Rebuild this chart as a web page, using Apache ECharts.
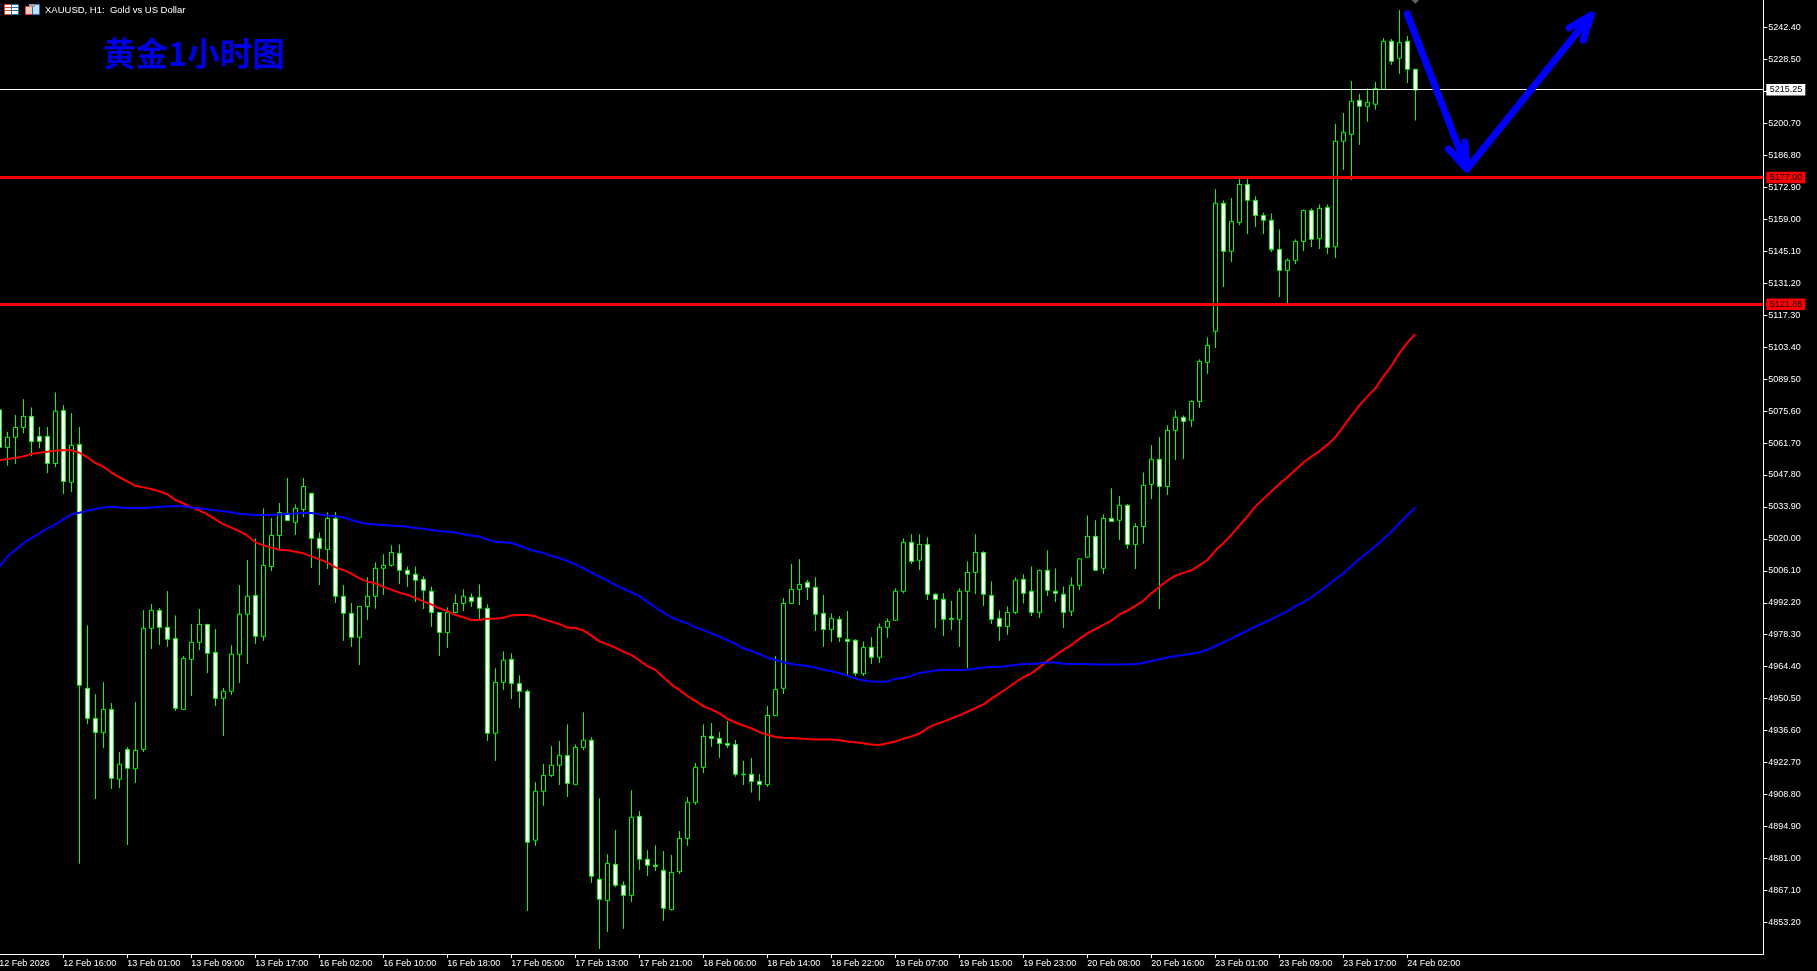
<!DOCTYPE html>
<html>
<head>
<meta charset="utf-8">
<title>XAUUSD H1</title>
<script src="https://cdn.jsdelivr.net/npm/echarts@6/dist/echarts.min.js"></script>
<style>html,body{margin:0;padding:0;background:#000;overflow:hidden}#c{width:1817px;height:971px}</style>
</head>
<body>
<div id="c"></div>
<script>
const timeLabels = ['12 Feb 2026','12 Feb 16:00','13 Feb 01:00','13 Feb 09:00','13 Feb 17:00','16 Feb 02:00','16 Feb 10:00','16 Feb 18:00','17 Feb 05:00','17 Feb 13:00','17 Feb 21:00','18 Feb 06:00','18 Feb 14:00','18 Feb 22:00','19 Feb 07:00','19 Feb 15:00','19 Feb 23:00','20 Feb 08:00','20 Feb 16:00','23 Feb 01:00','23 Feb 09:00','23 Feb 17:00','24 Feb 02:00'];
const priceTicks = [5242.4,5228.5,5214.6,5200.7,5186.8,5172.9,5159,5145.1,5131.2,5117.3,5103.4,5089.5,5075.6,5061.7,5047.8,5033.9,5020,5006.1,4992.2,4978.3,4964.4,4950.5,4936.6,4922.7,4908.8,4894.9,4881,4867.1,4853.2];
const opens = [5076.1,5059.8,5064.2,5068.5,5073.3,5064.6,5064.6,5052.8,5075.9,5044.6,
5061.1,4955.0,4941.9,4935.7,4945.8,4915.4,4928.4,4920.0,4928.4,4981.1,
4988.9,4981.5,4976.7,4945.8,4967.6,4975.0,4982.8,4970.6,4950.6,4953.7,
4969.8,4987.2,4995.4,4977.6,5008.0,5021.5,5031.1,5027.2,5032.8,5039.8,
5020.2,5015.4,5028.9,4995.0,4987.6,4977.2,4990.6,4995.0,5007.2,5008.5,
5013.7,5006.3,5004.6,5002.4,4997.2,4988.0,4979.3,4988.0,4991.9,4994.6,
4994.6,4989.8,4935.4,4957.6,4967.6,4957.1,4953.7,4888.9,4910.2,4917.1,
4921.5,4925.8,4913.2,4929.3,4932.4,4871.9,4862.7,4878.4,4869.3,4864.9,
4899.3,4880.6,4878.0,4875.8,4858.7,4875.2,4889.7,4905.4,4920.6,4934.1,
4933.2,4931.0,4930.6,4917.6,4917.6,4914.5,4913.1,4943.1,4955.0,4991.9,
4998.0,5001.1,4998.9,4987.6,4980.6,4985.0,4976.3,4975.9,4961.4,4972.8,
4968.5,4981.5,4984.6,4997.2,5018.5,5010.7,5017.6,4995.9,4993.7,4985.4,
4985.0,4997.2,5005.4,5014.1,4995.4,4985.4,4981.9,4988.0,5002.4,4997.2,
4988.0,5006.3,4997.2,4995.9,4988.5,4999.8,5012.0,5021.1,5007.2,5028.9,
5028.1,5034.6,5017.6,5025.4,5043.7,5054.6,5042.8,5067.2,5072.9,5071.6,
5079.8,5096.8,5110.3,5166.0,5145.1,5157.7,5174.2,5167.3,5160.7,5158.6,
5145.9,5136.8,5141.2,5149.4,5162.9,5150.6,5164.2,5147.1,5193.0,5196.0,
5210.8,5208.2,5209.1,5215.6,5236.5,5229.1,5236.5,5224.3];
const closes = [5059.8,5064.2,5068.5,5073.3,5062.3,5062.4,5052.8,5075.5,5045.0,5060.7,
4956.3,4941.9,4935.8,4945.8,4915.8,4921.9,4920.2,4928.0,4981.1,4988.9,
4981.5,4976.3,4946.3,4968.0,4975.0,4982.8,4970.2,4950.6,4953.7,4969.8,
4987.2,4995.0,4977.6,5008.5,5021.5,5031.5,5028.0,5033.3,5042.8,5020.2,
5015.9,5028.9,4995.0,4987.6,4977.2,4990.6,4995.0,5007.2,5008.5,5014.1,
5006.3,5004.6,5002.0,4997.6,4988.0,4979.3,4988.0,4991.9,4995.0,4992.8,
4989.8,4935.4,4957.6,4967.2,4957.1,4953.7,4888.0,4910.2,4917.1,4921.5,
4925.8,4913.6,4929.3,4932.4,4873.2,4863.2,4878.8,4869.3,4864.9,4898.9,
4880.6,4878.0,4877.5,4859.3,4874.9,4889.7,4905.4,4920.6,4934.1,4933.2,
4931.0,4930.2,4917.6,4917.4,4914.4,4913.1,4943.2,4954.5,4991.9,4998.0,
5000.2,4998.9,4987.2,4980.6,4985.4,4977.2,4975.4,4961.5,4972.8,4968.5,
4981.5,4984.1,4997.2,5018.5,5010.2,5017.6,4995.9,4993.7,4985.0,4985.0,
4997.2,5005.4,5014.1,4995.9,4985.0,4981.9,4988.0,5002.0,4996.3,4988.0,
5006.3,4997.6,4996.3,4988.0,4999.8,5011.3,5021.1,5006.3,5028.9,5027.6,
5034.6,5017.6,5025.4,5043.3,5054.6,5042.8,5067.2,5072.9,5071.1,5079.8,
5097.2,5104.2,5166.0,5145.1,5158.1,5174.2,5167.3,5160.7,5158.6,5145.8,
5136.8,5141.2,5149.4,5162.9,5150.3,5163.8,5146.8,5193.0,5196.9,5210.4,
5208.2,5209.9,5216.0,5236.5,5227.8,5236.0,5224.3,5215.25];
const lows = [5059.4,5051.8,5052.6,5065.9,5056.0,5059.4,5048.6,5051.2,5039.5,5040.4,
4878.7,4939.4,4906.8,4929.0,4911.2,4911.6,4886.8,4913.8,4927.3,4972.1,
4973.8,4973.0,4945.1,4945.6,4951.6,4971.6,4961.6,4947.3,4934.2,4952.1,
4957.3,4965.6,4974.3,4975.6,5006.0,5015.1,5028.0,5021.7,5029.5,5007.3,
4999.9,5006.9,4992.1,4975.6,4973.0,4965.1,4984.7,4989.6,4995.6,5007.9,
5000.4,4999.1,4992.5,4989.5,4981.7,4969.0,4972.5,4987.6,4988.6,4990.4,
4985.0,4932.1,4923.4,4954.3,4950.3,4946.4,4858.1,4886.4,4903.8,4916.4,
4912.9,4907.7,4913.0,4928.1,4870.3,4841.6,4849.0,4868.5,4850.3,4862.0,
4875.9,4873.3,4875.5,4853.8,4858.3,4874.2,4886.4,4904.2,4918.1,4929.5,
4924.7,4929.0,4916.5,4912.9,4909.6,4906.1,4912.1,4943.0,4952.5,4991.7,
4991.2,4993.4,4979.9,4973.0,4975.1,4975.1,4960.6,4960.3,4960.3,4965.6,
4966.0,4976.9,4984.4,4996.3,5009.1,5006.4,4993.4,4981.2,4977.7,4980.3,
4973.0,4963.7,4996.0,4990.8,4983.0,4975.6,4978.2,4987.2,4991.9,4986.4,
4985.6,4995.1,4992.5,4981.2,4986.4,4997.7,5011.8,5006.1,5004.7,5027.4,
5019.5,5015.7,5006.9,5017.9,5037.3,4989.5,5039.1,5054.3,5054.7,5068.7,
5076.9,5091.7,5103.0,5129.6,5140.4,5156.5,5152.6,5155.7,5152.6,5144.8,
5125.2,5122.4,5139.6,5145.2,5147.0,5146.1,5143.9,5142.2,5180.5,5176.1,
5191.4,5201.5,5206.7,5215.4,5226.2,5222.3,5218.3,5202.0];
const highs = [5076.8,5066.6,5073.9,5080.8,5077.2,5068.7,5068.7,5083.7,5078.2,5074.7,
5068.7,4982.4,4952.5,4957.7,4948.6,4927.3,4929.4,4949.0,4989.0,4991.7,
4989.9,4997.3,4986.7,4969.0,4983.0,4989.5,4983.0,4980.8,4955.1,4973.7,
4999.9,5010.8,5020.2,5033.3,5029.1,5035.6,5046.5,5035.0,5046.5,5040.0,
5022.8,5031.5,5031.7,4999.9,4992.1,4990.8,5003.3,5009.8,5013.3,5017.2,
5017.6,5008.0,5008.0,5003.7,4999.3,4988.2,4990.2,4995.9,4998.0,4996.3,
5000.2,4991.5,4963.7,4971.1,4970.2,4960.6,4954.5,4914.2,4922.1,4929.9,
4932.1,4939.3,4930.6,4944.5,4933.7,4907.1,4882.8,4893.3,4871.0,4910.6,
4901.6,4884.6,4886.7,4884.2,4882.5,4892.9,4907.7,4922.5,4939.3,4939.9,
4936.0,4940.8,4932.5,4923.4,4924.7,4917.7,4947.3,4969.0,4994.3,5009.1,
5011.2,5002.1,5003.3,4995.6,4987.6,4986.4,4988.6,4976.3,4975.4,4977.2,
4983.2,4985.4,4998.5,5020.2,5022.0,5022.0,5020.7,4996.3,4996.3,4993.0,
4998.5,5010.2,5022.0,5014.6,5001.5,4988.9,4990.6,5003.3,5004.6,5008.0,
5006.7,5015.0,5007.2,4999.3,5003.3,5011.5,5030.2,5028.1,5030.7,5042.0,
5038.6,5035.2,5026.8,5048.9,5060.8,5064.3,5069.4,5075.9,5073.7,5080.3,
5098.1,5107.7,5172.2,5167.3,5168.3,5177.0,5177.0,5169.0,5162.0,5161.6,
5154.6,5142.0,5150.3,5163.3,5163.8,5165.5,5165.5,5200.5,5205.3,5219.2,
5213.6,5216.0,5218.8,5237.9,5237.5,5250.1,5238.8,5224.5];
const maRed = [5054.2,5054.8,5055.2,5055.9,5056.9,5057.5,5057.9,5058.3,5058.6,5058.6,
5057.5,5055.5,5053.0,5051.4,5048.9,5046.8,5045.0,5043.1,5042.4,5041.7,
5040.7,5039.4,5036.9,5035.5,5033.7,5032.4,5030.7,5028.5,5026.3,5024.9,
5023.4,5021.4,5018.6,5017.2,5016.2,5015.3,5015.1,5014.4,5013.7,5012.4,
5011.1,5009.8,5007.6,5006.5,5004.9,5002.8,5001.4,5000.7,4999.1,4997.9,
4996.6,4995.7,4994.3,4992.8,4991.5,4989.8,4988.6,4986.9,4985.9,4984.7,
4984.7,4985.2,4985.3,4985.7,4986.7,4986.9,4986.9,4986.3,4985.0,4984.0,
4983.0,4981.4,4981.2,4980.2,4977.9,4975.4,4974.1,4972.7,4970.9,4969.5,
4967.2,4964.7,4963.0,4959.8,4956.7,4954.3,4951.7,4949.5,4947.2,4945.8,
4944.1,4941.8,4940.1,4938.8,4937.6,4935.9,4934.8,4933.8,4933.5,4933.4,
4933.1,4932.9,4932.7,4932.7,4932.7,4932.4,4931.8,4931.5,4931.1,4930.5,
4930.3,4931.1,4931.8,4933.1,4934.0,4935.3,4937.6,4939.3,4940.5,4941.8,
4943.2,4944.8,4946.4,4947.9,4950.4,4952.8,4955.0,4957.5,4959.8,4961.5,
4964.1,4966.9,4969.2,4971.7,4973.8,4976.5,4978.9,4980.7,4982.6,4984.4,
4987.1,4988.8,4990.8,4993.1,4996.3,4999.1,5001.8,5004.0,5005.2,5006.3,
5008.5,5010.8,5014.9,5018.1,5021.7,5025.8,5029.7,5034.0,5037.4,5040.6,
5043.9,5046.8,5050.0,5053.2,5055.8,5058.1,5060.9,5064.2,5068.8,5073.5,
5078.1,5081.9,5085.5,5090.6,5095.2,5100.7,5105.4,5109.1];
const maBlue = [5007.8,5012.3,5015.2,5018.1,5020.2,5022.4,5024.6,5026.3,5028.5,5030.7,
5031.4,5032.3,5032.9,5033.7,5034.0,5033.6,5033.4,5033.4,5033.4,5033.7,
5033.9,5034.2,5034.2,5034.2,5033.7,5033.3,5032.9,5032.4,5032.0,5031.6,
5030.8,5030.7,5030.4,5030.4,5030.4,5030.7,5030.8,5031.0,5031.4,5031.3,
5030.7,5030.2,5029.8,5029.4,5028.2,5027.2,5026.6,5026.3,5026.0,5025.7,
5025.6,5025.3,5024.7,5024.4,5023.9,5023.4,5023.1,5022.8,5022.0,5021.4,
5021.0,5019.7,5018.8,5018.5,5018.2,5017.1,5015.7,5014.6,5013.9,5012.6,
5011.7,5010.4,5008.9,5007.3,5005.3,5003.6,5001.8,4999.9,4998.3,4996.7,
4995.2,4992.6,4990.2,4987.9,4985.9,4984.4,4983.3,4981.5,4980.4,4978.9,
4977.5,4975.9,4974.3,4972.4,4971.2,4969.9,4968.3,4967.3,4966.3,4965.6,
4965.1,4964.7,4964.0,4963.1,4962.4,4961.5,4960.5,4959.2,4958.5,4957.9,
4957.8,4958.0,4959.1,4959.5,4960.4,4961.7,4962.1,4962.8,4963.0,4963.0,
4963.0,4963.1,4963.5,4964.0,4964.3,4964.3,4964.7,4965.1,4965.6,4965.6,
4965.9,4966.2,4966.2,4965.7,4965.6,4965.6,4965.6,4965.3,4965.3,4965.3,
4965.3,4965.4,4965.6,4966.0,4966.9,4967.6,4968.4,4969.0,4969.5,4970.0,
4970.7,4971.7,4973.4,4975.0,4976.6,4978.4,4980.1,4981.8,4983.4,4985.0,
4986.8,4988.5,4990.7,4992.4,4994.6,4997.1,4999.7,5002.4,5005.0,5008.2,
5011.1,5014.0,5016.9,5019.8,5023.0,5026.8,5030.3,5033.6];
const levelClose = 5215.25;
const levelsRed = [5177.00, 5121.85];
const levelNudge = 0.2;
const arrowDownBar = [176, 183.46, 181.15, 183.46, 183.2];
const arrowDownPrice = [5248.4, 5180.9, 5189.6, 5180.9, 5192.7];
const arrowUpBar = [183.46, 199, 196.2, 199, 198];
const arrowUpPrice = [5180.9, 5247.9, 5242.3, 5247.9, 5237.0];

const barSlots = 221;
const categories = Array.from({length: barSlots}, (_, i) => (i % 8 === 0 && timeLabels[i / 8]) || '');
const candles = opens.map((o, i) => [o, closes[i], lows[i], highs[i]]);
const txt = {color: '#fff', fontFamily: '"Liberation Sans", Arial, sans-serif', fontSize: 9};
const tagLabel = (bg, v) => ({show: true, position: 'end', distance: 3, backgroundColor: bg, color: '#000', fontFamily: txt.fontFamily, fontSize: 9, padding: [1.5, 3, 1, 3.5], formatter: () => v.toFixed(2)});

const chart = echarts.init(document.getElementById('c'), null, {renderer: 'canvas', width: 1817, height: 971});
chart.setOption({
  animation: false,
  backgroundColor: '#000',
  title: [
    {text: 'XAUUSD, H1:  Gold vs US Dollar', left: 45, top: 5, textStyle: {color: '#fff', fontFamily: txt.fontFamily, fontSize: 9.5, fontWeight: 'normal'}, padding: 0},
    {text: '黄金1小时图', left: 103, top: 37, textStyle: {color: '#0000e8', fontFamily: '"Noto Sans CJK SC", sans-serif', fontSize: 32.5, fontWeight: 'bold'}, padding: 0}
  ],
  grid: {left: -4.7, top: 0, width: 1768, height: 954, containLabel: false, outerBoundsMode: 'none'},
  xAxis: [
    {type: 'category', data: categories, boundaryGap: true,
     axisLine: {onZero: false, lineStyle: {color: '#fff', width: 1}},
     axisTick: {show: true, alignWithLabel: true, length: 4, lineStyle: {color: '#fff'}, interval: (i) => i % 8 === 0 && i <= 176},
     axisLabel: Object.assign({}, txt, {align: 'left', margin: 5, interval: (i) => i % 8 === 0 && i <= 176, hideOverlap: false, showMinLabel: true}),
     splitLine: {show: false}},
    {type: 'value', min: -0.5, max: barSlots - 0.5, show: false, splitLine: {show: false}}
  ],
  yAxis: {type: 'value', position: 'right', scale: true, min: 4839.39, max: 5254.45,
    axisLine: {show: true, onZero: false, lineStyle: {color: '#fff', width: 1}},
    axisTick: {show: true, length: 4, lineStyle: {color: '#fff'}, customValues: priceTicks},
    axisLabel: Object.assign({}, txt, {margin: 5, customValues: priceTicks, formatter: (v) => v.toFixed(2), showMinLabel: true, showMaxLabel: true}),
    splitLine: {show: false}},
  series: [
    {name: 'XAUUSD', type: 'candlestick', data: candles, barWidth: 5, z: 2,
     itemStyle: {color: '#000', color0: '#fff', borderColor: '#00ff00', borderColor0: '#00ff00', borderWidth: 1}},
    {name: 'MA red', type: 'line', data: maRed, showSymbol: false, symbol: 'none', z: 3, lineStyle: {color: '#ff0000', width: 2}},
    {name: 'MA blue', type: 'line', data: maBlue, showSymbol: false, symbol: 'none', z: 3, lineStyle: {color: '#0000ff', width: 2}},
    {name: 'Levels', type: 'line', data: [], z: 4, clip: false,
     markLine: {silent: true, symbol: 'none', animation: false, precision: 2,
       data: [{yAxis: levelClose + levelNudge, lineStyle: {color: '#fff', width: 1, type: 'solid'}, label: tagLabel('#fff', levelClose)}]
         .concat(levelsRed.map(v => ({yAxis: v + levelNudge, lineStyle: {color: '#ff0000', width: 3, type: 'solid'}, label: tagLabel('#ff0000', v)})))}},
    {name: 'Arrow down', type: 'line', xAxisIndex: 1, data: arrowDownBar.map((x, i) => [x, arrowDownPrice[i]]), symbol: 'none', z: 5, clip: false,
     lineStyle: {color: '#0000ff', width: 7, cap: 'round', join: 'round'}},
    {name: 'Arrow up', type: 'line', xAxisIndex: 1, data: arrowUpBar.map((x, i) => [x, arrowUpPrice[i]]), symbol: 'none', z: 5, clip: false,
     lineStyle: {color: '#0000ff', width: 7, cap: 'round', join: 'round'}},
    {name: 'Marker', type: 'scatter', data: [[177, 5254.3]], symbol: 'diamond', symbolSize: [7, 7], z: 5, clip: false, itemStyle: {color: '#708090'}}
  ],
  graphic: [
    {type: 'rect', shape: {x: 4.5, y: 4.5, width: 7, height: 10}, style: {fill: '#fff', stroke: '#e8402c', lineWidth: 1}, silent: true},
    {type: 'rect', shape: {x: 11.5, y: 4.5, width: 7, height: 10}, style: {fill: '#fff', stroke: '#1f6fb5', lineWidth: 1}, silent: true},
    {type: 'rect', shape: {x: 5, y: 7, width: 6, height: 1}, style: {fill: '#e8402c'}, silent: true},
    {type: 'rect', shape: {x: 5, y: 10, width: 6, height: 1}, style: {fill: '#e8402c'}, silent: true},
    {type: 'rect', shape: {x: 12, y: 7, width: 6, height: 1}, style: {fill: '#1f6fb5'}, silent: true},
    {type: 'rect', shape: {x: 12, y: 10, width: 6, height: 1}, style: {fill: '#1f6fb5'}, silent: true},
    {type: 'rect', shape: {x: 25.5, y: 6.5, width: 7, height: 8}, style: {fill: '#f4c7c0', stroke: '#e8402c', lineWidth: 1}, silent: true},
    {type: 'rect', shape: {x: 32.5, y: 4.5, width: 7, height: 10}, style: {fill: '#bfe0f5', stroke: '#1f6fb5', lineWidth: 1}, silent: true},
    {type: 'rect', shape: {x: 29, y: 4, width: 6, height: 3}, style: {fill: '#9aa0a6'}, silent: true}
  ]
});
</script>
</body>
</html>
